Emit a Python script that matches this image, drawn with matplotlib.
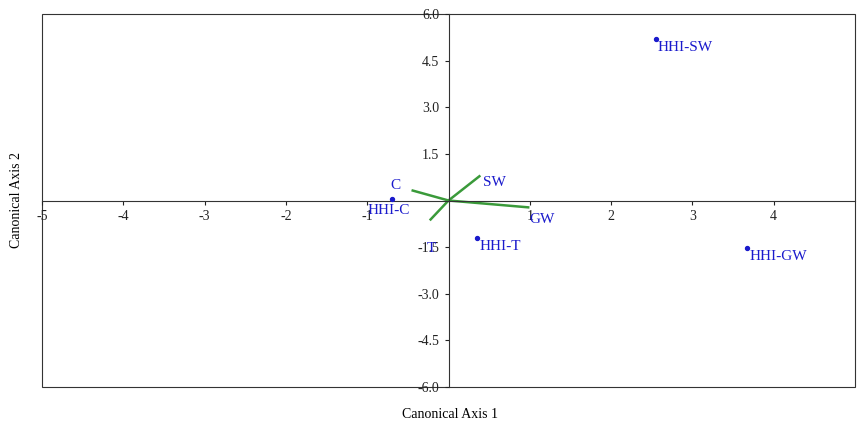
import matplotlib
matplotlib.use("Agg")
import matplotlib.pyplot as plt

plt.rcParams['font.family'] = ['Liberation Serif', 'DejaVu Serif']

site_names = ["HHI-SW", "HHI-GW", "HHI-T", "HHI-C"]
site_x = [2.55, 3.67, 0.35, -0.70]
site_y = [5.20, -1.53, -1.20, 0.05]

env_names = ["SW", "GW", "C", "T"]
env_x = [0.38, 0.98, -0.44, -0.22]
env_y = [0.78, -0.22, 0.32, -0.61]

xticks = [-5, -4, -3, -2, -1, 1, 2, 3, 4]
yticks = [6.0, 4.5, 3.0, 1.5, -1.5, -3.0, -4.5, -6.0]

fig = plt.figure(figsize=(8.65, 4.30), dpi=100)
ax = fig.add_axes([42/865, 1-387/430, (855-42)/865, (387-14)/430])
ax.set_xlim(-5, 5)
ax.set_ylim(-6, 6)

for s in ['left', 'bottom']:
    ax.spines[s].set_position(('data', 0))
    ax.spines[s].set_color('#333333')
    ax.spines[s].set_linewidth(0.8)
ax.spines['top'].set_visible(False)
ax.spines['right'].set_visible(False)
ax.add_patch(plt.Rectangle((0, 0), 1, 1, transform=ax.transAxes, fill=False,
                           edgecolor='#333333', lw=0.8, clip_on=False))

ax.set_xticks(xticks)
ax.set_xticklabels([str(v) for v in xticks])
ax.set_yticks(yticks)
ax.set_yticklabels([f"{v:.1f}" for v in yticks])
ax.tick_params(direction='out', length=3, labelsize=10, colors='#222222')

for name, x, y in zip(env_names, env_x, env_y):
    ax.plot([0, x], [0, y], color='#3a9a3a', lw=1.8)
env_off = {"SW": (0.05, -0.3), "GW": (0.02, -0.5), "C": (-0.28, 0.05), "T": (-0.05, -1.05)}
for name, x, y in zip(env_names, env_x, env_y):
    dx, dy = env_off[name]
    ax.text(x + dx, y + dy, name, color='#1a1acc', fontsize=11)

ax.scatter(site_x, site_y, s=8, color='#1a1acc', zorder=3)
site_off = {"HHI-SW": (0.02, -0.4), "HHI-GW": (0.03, -0.4), "HHI-T": (0.03, -0.4), "HHI-C": (-0.3, -0.5)}
for name, x, y in zip(site_names, site_x, site_y):
    dx, dy = site_off[name]
    ax.text(x + dx, y + dy, name, color='#1a1acc', fontsize=11)

fig.text(450/865, 1-415/430, "Canonical Axis 1", ha='center', va='center', fontsize=10)
fig.text(17/865, 1-200/430, "Canonical Axis 2", ha='center', va='center', rotation=90, fontsize=10)

fig.savefig("out.png", dpi=100)
